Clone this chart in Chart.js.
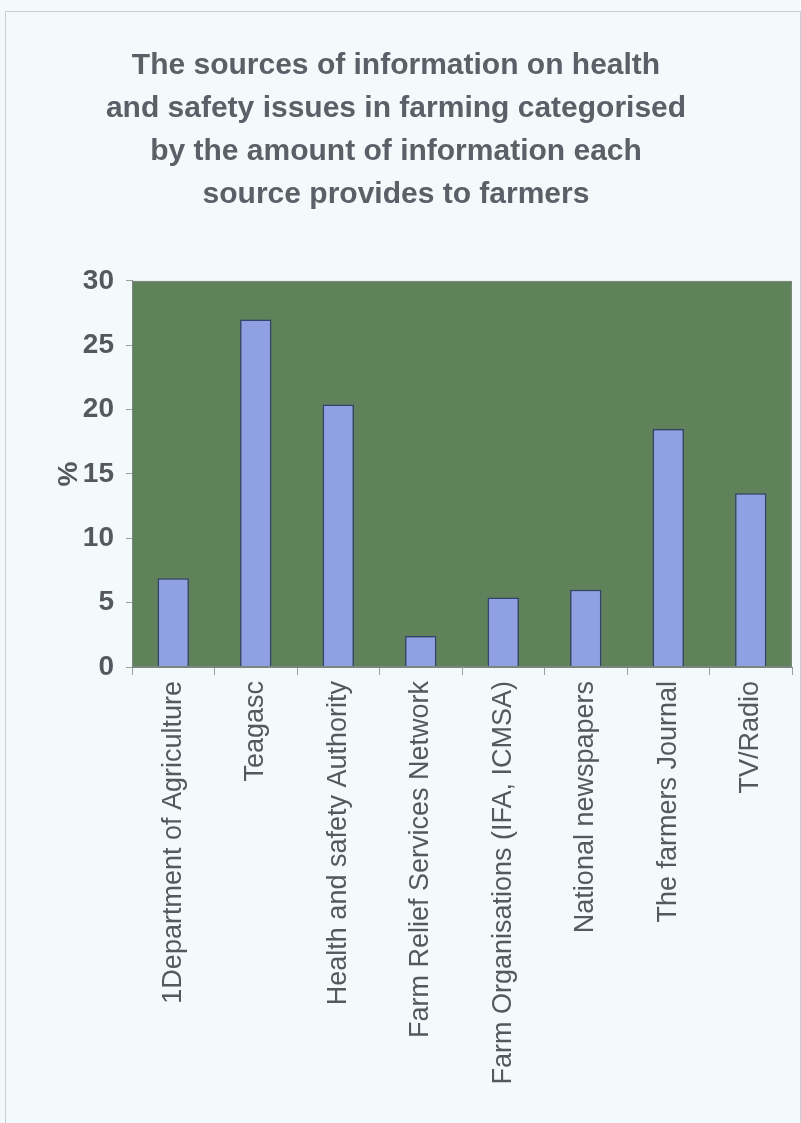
<!DOCTYPE html>
<html lang="en">

<head>
    <meta charset="UTF-8">
    <meta name="viewport" content="width=device-width, initial-scale=1.0">
    <title>Sources of information on health and safety</title>
    <script src="https://cdn.jsdelivr.net/npm/chart.js"></script>
    <style>
        body {
            margin: 0;
            background: #f3fafc;
        }

        .moldura {
            position: absolute;
            left: 5px;
            top: 11px;
            width: 794px;
            height: 1130px;
            border: 1px solid #c9ced2;
        }

        .grafico {
            position: absolute;
            left: 0;
            top: 0;
            width: 801px;
            height: 1123px;
        }
    </style>
</head>

<body>
    <div class="moldura"></div>
    <div class="grafico">
        <canvas id="myChart"></canvas>
    </div>

    <script>
        // values
        const sources = [
            '1Department of Agriculture',
            'Teagasc',
            'Health and safety Authority',
            'Farm Relief Services Network',
            'Farm Organisations (IFA, ICMSA)',
            'National newspapers',
            'The farmers Journal',
            'TV/Radio'
        ];
        const percentages = [6.9, 27.0, 20.4, 2.4, 5.4, 6.0, 18.5, 13.5];
        const yTicks = [0, 5, 10, 15, 20, 25, 30];
        const titleLines = [
            'The sources of information on health',
            'and safety issues in farming categorised',
            'by the amount of information each',
            'source provides to farmers'
        ];

        const textColor = '#55595f';
        const fonte = "'Liberation Sans', Arial, sans-serif";

        // green plot background + thin frame
        const fundoPlot = {
            id: 'fundoPlot',
            beforeDraw(chart) {
                const { ctx, chartArea } = chart;
                ctx.save();
                ctx.fillStyle = '#5f825b';
                ctx.fillRect(chartArea.left, chartArea.top, chartArea.width, chartArea.height);
                ctx.restore();
            },
            afterDraw(chart) {
                const { ctx, chartArea } = chart;
                ctx.save();
                ctx.strokeStyle = '#7d8580';
                ctx.lineWidth = 1;
                ctx.strokeRect(chartArea.left + 0.5, chartArea.top + 0.5, chartArea.width - 1, chartArea.height - 1);
                ctx.restore();
            }
        };

        const config = {
            type: 'bar',
            data: {
                labels: sources,
                datasets: [{
                    label: '%',
                    data: percentages,
                    backgroundColor: '#8fa1e2',
                    borderColor: '#34406e',
                    borderWidth: 1.5,
                    categoryPercentage: 1,
                    barPercentage: 0.38
                }]
            },
            options: {
                responsive: true,
                maintainAspectRatio: false,
                animation: false,
                layout: {
                    padding: { left: 0, right: 9, top: 0, bottom: 0 }
                },
                plugins: {
                    legend: { display: false },
                    tooltip: { enabled: false },
                    title: {
                        display: true,
                        text: titleLines,
                        color: '#5b5f67',
                        font: { family: fonte, size: 30, weight: 'bold', lineHeight: 1.433 },
                        padding: { top: 44, bottom: 65 }
                    }
                },
                scales: {
                    x: {
                        grid: {
                            display: true,
                            drawOnChartArea: false,
                            drawTicks: true,
                            tickLength: 8,
                            color: '#9aa09c',
                            offset: true
                        },
                        border: { display: true, color: '#7d8580' },
                        ticks: {
                            color: textColor,
                            font: { family: fonte, size: 27 },
                            minRotation: 90,
                            maxRotation: 90,
                            padding: 6,
                            autoSkip: false
                        },
                        afterFit(scale) {
                            scale.height = 456;
                        }
                    },
                    y: {
                        min: 0,
                        max: 30,
                        afterBuildTicks(scale) {
                            scale.ticks = yTicks.map(v => ({ value: v }));
                        },
                        grid: {
                            display: true,
                            drawOnChartArea: false,
                            drawTicks: true,
                            tickLength: 6,
                            color: '#9aa09c'
                        },
                        border: { display: true, color: '#7d8580' },
                        ticks: {
                            color: textColor,
                            font: { family: fonte, size: 28, weight: 'bold' },
                            padding: 12
                        },
                        title: {
                            display: true,
                            text: '%',
                            color: textColor,
                            font: { family: fonte, size: 28, weight: 'bold' },
                            padding: { top: 52, bottom: 0 }
                        },
                        afterFit(scale) {
                            scale.width = 132;
                        }
                    }
                }
            },
            plugins: [fundoPlot]
        };

        let myChart = new Chart(document.getElementById('myChart'), config);
    </script>
</body>

</html>
